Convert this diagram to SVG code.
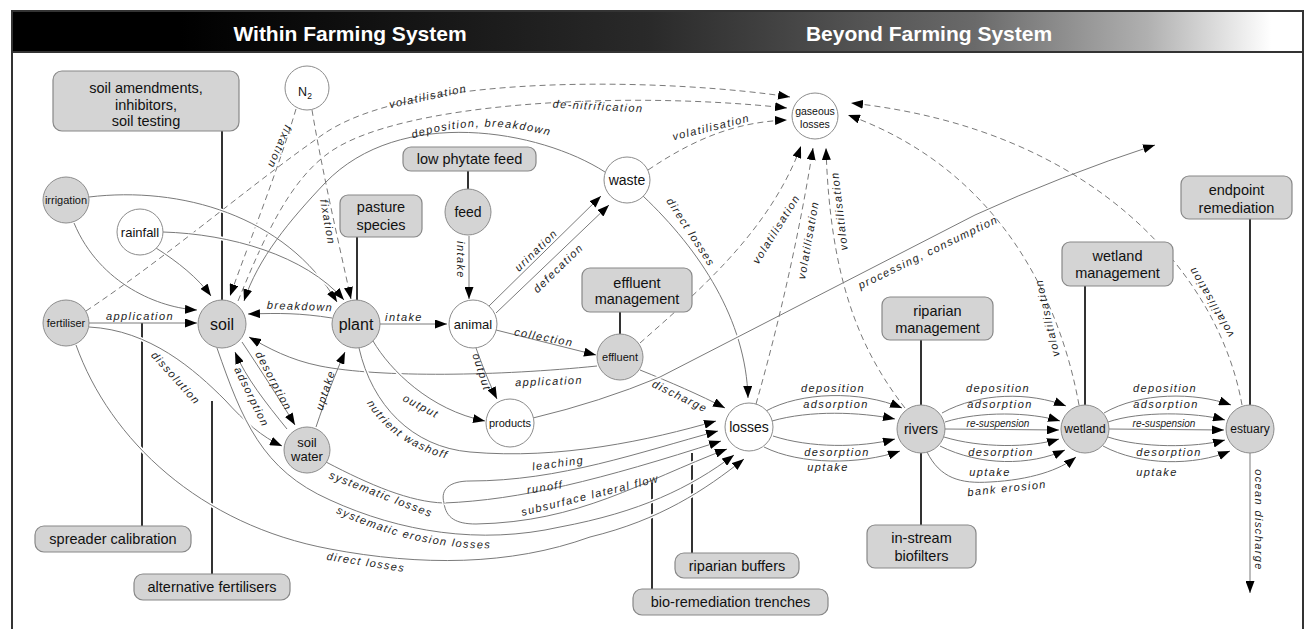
<svg xmlns="http://www.w3.org/2000/svg" width="1304" height="629" viewBox="0 0 1304 629">
<defs>
<linearGradient id="hdr" x1="0" y1="0" x2="1304" y2="0" gradientUnits="userSpaceOnUse">
<stop offset="0.138" stop-color="#000"/>
<stop offset="0.5" stop-color="#2a2a2a"/>
<stop offset="0.748" stop-color="#6a6a6a"/>
<stop offset="0.88" stop-color="#b0b0b0"/>
<stop offset="0.975" stop-color="#fff"/>
</linearGradient>
<marker id="ah" viewBox="0 0 12 9" refX="12" refY="4.5" markerWidth="12" markerHeight="9" orient="auto" markerUnits="userSpaceOnUse">
<path d="M0,0 L12,4.5 L0,9 z" fill="#000"/>
</marker>
<path id="tpDep" d="M 403,142 Q 480,113 560,139"/>
<path id="tpNut" d="M 361,391 C 375,425 409,452 460,462"/>
<path id="tpEro" d="M 326,508 C 380,535 440,551 502,548"/>
</defs>
<style>
.ng{fill:#d4d4d4;stroke:#8c8c8c;stroke-width:1}
.nw{fill:#fff;stroke:#8c8c8c;stroke-width:1}
.bx{fill:#d4d4d4;stroke:#888;stroke-width:1.2}
.nt{font-family:"Liberation Sans",Arial,sans-serif;fill:#111;text-anchor:middle}
.bt{font-family:"Liberation Sans",Arial,sans-serif;font-size:14.5px;fill:#111;text-anchor:middle}
.e{fill:none;stroke:#7a7a7a;stroke-width:1}
.d{fill:none;stroke:#7a7a7a;stroke-width:1;stroke-dasharray:6 4}
.h{fill:none;stroke:#fff;stroke-width:4}
.a{marker-end:url(#ah)}
.lk{stroke:#333;stroke-width:2;fill:none}
.el{font-family:"Liberation Sans",Arial,sans-serif;font-size:11px;font-style:italic;letter-spacing:1.4px;fill:#222;text-anchor:middle;dominant-baseline:central}
.ep{font-family:"Liberation Sans",Arial,sans-serif;font-size:11px;font-style:italic;letter-spacing:1.4px;fill:#222;text-anchor:middle}
.rs{font-size:10px;letter-spacing:0}
.ht{font-family:"Liberation Sans",Arial,sans-serif;font-weight:bold;font-size:21px;fill:#fff;text-anchor:middle}
</style>

<g id="frame">
<rect x="0" y="0" width="1304" height="629" fill="#fff"/>
<rect x="12" y="11" width="1291" height="41" fill="url(#hdr)"/>
<line x1="11" y1="11" x2="1304" y2="11" stroke="#333" stroke-width="2"/>
<line x1="11" y1="52" x2="1304" y2="52" stroke="#333" stroke-width="2"/>
<line x1="12" y1="11" x2="12" y2="629" stroke="#333" stroke-width="2"/>
<line x1="1303" y1="11" x2="1303" y2="629" stroke="#333" stroke-width="2"/>
<text class="ht" x="350" y="41">Within Farming System</text>
<text class="ht" x="929" y="41">Beyond Farming System</text>
</g>

<g id="connectors">
<!-- intervention links -->
<path class="lk" d="M222,131 V300"/>
<path class="lk" d="M357,237 V300"/>
<path class="lk" d="M468,171 V189"/>
<path class="lk" d="M620,312 V334"/>
<path class="lk" d="M921,340 V405"/>
<path class="lk" d="M1085,286 V405"/>
<path class="lk" d="M1250,219 V405"/>
<path class="lk" d="M142,323 V526"/>
<path class="lk" d="M212,401 V574"/>
<path class="lk" d="M692,453 V553"/>
<path class="lk" d="M652,483 V589"/>
<path class="lk" d="M921,453 V525"/>

<!-- flows -->
<path class="d a" d="M 86,311 C 170,255 250,185 325,133 C 420,70 680,80 790,97"/>
<path class="d a" d="M 238,301 C 265,235 290,180 330,152 C 400,103 620,90 787,108"/>
<path class="d a" d="M 296,109 C 278,170 250,240 230,296"/>
<path class="d a" d="M 312,110 C 322,170 338,240 351,299"/>
<path class="h" d="M 89,197 C 180,186 285,215 337,302"/>
<path class="e a" d="M 89,197 C 180,186 285,215 337,302"/>
<path class="h" d="M 163,232 C 230,234 305,255 344,300"/>
<path class="e a" d="M 163,232 C 230,234 305,255 344,300"/>
<path class="e a" d="M 74,223 C 100,285 160,308 197,310"/>
<path class="e a" d="M 156,248 C 178,262 198,278 211,296"/>
<path class="e a" d="M 605,172 C 540,130 400,105 325,183 C 290,220 258,258 244,301"/>
<path class="e a" d="M 89,323 L 197,323"/>
<path class="h" d="M 89,327 C 150,330 195,370 225,400 C 245,422 262,437 282,446"/>
<path class="e a" d="M 89,327 C 150,330 195,370 225,400 C 245,422 262,437 282,446"/>
<path class="e a" d="M 332,318 C 300,313 280,313 248,314"/>
<path class="e a" d="M 242,342 C 262,372 280,400 295,425"/>
<path class="e a" d="M 287,429 C 266,403 246,378 235,352"/>
<path class="e a" d="M 316,427 C 325,400 336,372 345,352"/>
<path class="e a" d="M 597,366 C 500,376 380,378 320,366 C 290,360 268,348 249,337"/>
<path class="h" d="M 373,341 C 390,370 430,410 485,421"/>
<path class="e a" d="M 373,341 C 390,370 430,410 485,421"/>
<path class="h" d="M 359,348 C 372,405 412,447 470,452 C 560,460 650,440 716,421"/>
<path class="e a" d="M 359,348 C 372,405 412,447 470,452 C 560,460 650,440 716,421"/>
<path class="h" d="M 76,345 C 110,440 200,525 330,549 C 420,566 510,566 590,537 C 660,520 705,490 744,459"/>
<path class="e a" d="M 76,345 C 110,440 200,525 330,549 C 420,566 510,566 590,537 C 660,520 705,490 744,459"/>
<path class="h" d="M 217,348 C 242,420 262,470 330,500 C 400,532 480,545 560,527 C 640,512 690,488 734,455"/>
<path class="e a" d="M 217,348 C 242,420 262,470 330,500 C 400,532 480,545 560,527 C 640,512 690,488 734,455"/>
<path class="e" d="M 326,462 C 370,485 410,502 444,503"/>
<path class="h" d="M 444,503 C 446,518 456,524 476,524 C 580,522 640,482 727,449"/>
<path class="e a" d="M 444,503 C 446,518 456,524 476,524 C 580,522 640,482 727,449"/>
<path class="h" d="M 444,503 C 520,500 600,480 721,441"/>
<path class="e a" d="M 444,503 C 520,500 600,480 721,441"/>
<path class="h" d="M 444,503 C 440,489 450,481 470,481 C 560,481 640,452 718,431"/>
<path class="e a" d="M 444,503 C 440,489 450,481 470,481 C 560,481 640,452 718,431"/>
<path class="e a" d="M 380,324 L 447,324"/>
<path class="e a" d="M 469,236 L 469,299"/>
<path class="e a" d="M 489,306 L 601,196"/>
<path class="e a" d="M 496,313 L 609,205"/>
<path class="e a" d="M 496,330 L 596,355"/>
<path class="e a" d="M 476,348 C 484,370 490,385 497,399"/>
<path class="e a" d="M 640,370 C 670,382 700,395 725,408"/>
<path class="d a" d="M 640,343 C 700,290 770,230 801,146"/>
<path class="d a" d="M 648,170 C 700,135 740,122 787,120"/>
<path class="e a" d="M 643,196 C 700,250 746,320 748,398"/>
<path class="h" d="M 533,418 Q 600,402 660,377 L 975,215 Q 1060,176 1155,145"/>
<path class="e a" d="M 533,418 Q 600,402 660,377 L 975,215 Q 1060,176 1155,145"/>
<path class="d a" d="M 756,404 C 780,320 800,230 813,148"/>
<path class="d a" d="M 905,408 C 860,350 830,280 826,148"/>
<path class="d a" d="M 1079,405 C 1060,300 1000,170 848,115"/>
<path class="d a" d="M 1242,405 C 1220,280 1100,130 851,103"/>
<path class="e a" d="M 766,411 C 800,392 860,390 902,408"/>
<path class="e a" d="M 772,421 C 810,410 860,412 895,419"/>
<path class="e a" d="M 773,436 C 810,448 860,448 895,439"/>
<path class="e a" d="M 764,447 C 800,465 860,465 900,451"/>
<path class="e a" d="M 942,413 C 980,392 1030,392 1066,406"/>
<path class="e a" d="M 945,422 C 980,411 1030,412 1060,421"/>
<path class="e a" d="M 945,429 L 1059,430"/>
<path class="e a" d="M 944,437 C 980,448 1030,448 1059,439"/>
<path class="e a" d="M 940,446 C 980,466 1030,466 1065,450"/>
<path class="e a" d="M 927,452 C 940,478 960,484 990,482 C 1030,480 1060,470 1076,457"/>
<path class="e a" d="M 1104,413 C 1140,392 1195,392 1231,405"/>
<path class="e a" d="M 1108,422 C 1140,411 1195,412 1225,420"/>
<path class="e a" d="M 1109,429 L 1224,430"/>
<path class="e a" d="M 1108,437 C 1140,448 1195,448 1225,440"/>
<path class="e a" d="M 1103,446 C 1140,466 1195,466 1230,451"/>
<path class="e a" d="M 1250,453 L 1250,593"/>

<!-- edge labels -->
<text class="el" transform="rotate(-12 428 96)" x="428" y="96">volatilisation</text>
<text class="el" transform="rotate(3 598 106)" x="598" y="106">de-nitrification</text>
<text class="ep"><textPath href="#tpDep" startOffset="50%">deposition, breakdown</textPath></text>
<text class="el" transform="rotate(113 280 147)" x="280" y="147">fixation</text>
<text class="el" transform="rotate(80 328 222)" x="328" y="222">fixation</text>
<text class="el" x="140" y="316">application</text>
<text class="el" transform="rotate(48 176 378)" x="176" y="378">dissolution</text>
<text class="el" transform="rotate(2 300 306)" x="300" y="306">breakdown</text>
<text class="el" transform="rotate(62 274 381)" x="274" y="381">desorption</text>
<text class="el" transform="rotate(64 252 397)" x="252" y="397">adsorption</text>
<text class="el" transform="rotate(-72 325 390)" x="325" y="390">uptake</text>
<text class="el" x="404" y="317">intake</text>
<text class="el" transform="rotate(28 421 406)" x="421" y="406">output</text>
<text class="ep"><textPath href="#tpNut" startOffset="50%">nutrient washoff</textPath></text>
<text class="el" transform="rotate(90 461 260)" x="461" y="260">intake</text>
<text class="el" transform="rotate(-44 536 250)" x="536" y="250">urination</text>
<text class="el" transform="rotate(-44 558 268)" x="558" y="268">defecation</text>
<text class="el" transform="rotate(11 544 337)" x="544" y="337">collection</text>
<text class="el" transform="rotate(72 482 372)" x="482" y="372">output</text>
<text class="el" transform="rotate(-2 549 381)" x="549" y="381">application</text>
<text class="el" transform="rotate(26 680 396)" x="680" y="396">discharge</text>
<text class="el" transform="rotate(57 691 232)" x="691" y="232">direct losses</text>
<text class="el" transform="rotate(-14 711 127)" x="711" y="127">volatilisation</text>
<text class="el" transform="rotate(-58 776 229)" x="776" y="229">volatilisation</text>
<text class="el" transform="rotate(-80 808 240)" x="808" y="240">volatilisation</text>
<text class="el" transform="rotate(-97 839 211)" x="839" y="211">volatilisation</text>
<text class="el" transform="rotate(-103 1047 318)" x="1047" y="318">volatilisation</text>
<text class="el" transform="rotate(-120 1211 302)" x="1211" y="302">volatilisation</text>
<text class="el" transform="rotate(-26 928 252)" x="928" y="252">processing, consumption</text>
<text class="el" transform="rotate(90 1259 520)" x="1259" y="520">ocean discharge</text>
<text class="el" x="833" y="388">deposition</text>
<text class="el" x="836" y="404">adsorption</text>
<text class="el" x="837" y="452">desorption</text>
<text class="el" x="828" y="467">uptake</text>
<text class="el" x="998" y="388">deposition</text>
<text class="el" x="1000" y="404">adsorption</text>
<text class="el rs" x="998" y="423">re-suspension</text>
<text class="el" x="1001" y="452">desorption</text>
<text class="el" x="990" y="472">uptake</text>
<text class="el" transform="rotate(-6 1007 488)" x="1007" y="488">bank erosion</text>
<text class="el" x="1165" y="388">deposition</text>
<text class="el" x="1166" y="404">adsorption</text>
<text class="el rs" x="1164" y="423">re-suspension</text>
<text class="el" x="1169" y="452">desorption</text>
<text class="el" x="1157" y="472">uptake</text>
<text class="el" transform="rotate(21 381 494)" x="381" y="494">systematic losses</text>
<text class="ep"><textPath href="#tpEro" startOffset="50%">systematic erosion losses</textPath></text>
<text class="el" transform="rotate(9 366 562)" x="366" y="562">direct losses</text>
<text class="el" transform="rotate(-8 558 463)" x="558" y="463">leaching</text>
<text class="el" transform="rotate(-9 545 487)" x="545" y="487">runoff</text>
<text class="el" transform="rotate(-14 590 495)" x="590" y="495">subsurface lateral flow</text>
</g>

<g id="n-N2"><circle class="nw" cx="307" cy="88" r="22"/><text class="nt" x="305" y="96" font-size="12.5">N<tspan font-size="8.5" dy="3">2</tspan></text></g>
<g id="n-irrigation"><circle class="ng" cx="66" cy="200" r="23"/><text class="nt" x="66" y="204" font-size="11">irrigation</text></g>
<g id="n-rainfall"><circle class="nw" cx="140" cy="232" r="23"/><text class="nt" x="140" y="237" font-size="13">rainfall</text></g>
<g id="n-fertiliser"><circle class="ng" cx="66" cy="323" r="23"/><text class="nt" x="66" y="327" font-size="11">fertiliser</text></g>
<g id="n-soil"><circle class="ng" cx="222" cy="324" r="24"/><text class="nt" x="222" y="330" font-size="16">soil</text></g>
<g id="n-plant"><circle class="ng" cx="356" cy="324" r="24"/><text class="nt" x="356" y="330" font-size="16">plant</text></g>
<g id="n-soilwater"><circle class="ng" cx="307" cy="450" r="23"/><text class="nt" x="307" y="447" font-size="13">soil</text><text class="nt" x="307" y="461" font-size="13">water</text></g>
<g id="n-feed"><circle class="ng" cx="468" cy="212" r="23"/><text class="nt" x="468" y="217" font-size="14">feed</text></g>
<g id="n-animal"><circle class="nw" cx="473" cy="324" r="24"/><text class="nt" x="473" y="329" font-size="13">animal</text></g>
<g id="n-waste"><circle class="nw" cx="627" cy="180" r="23"/><text class="nt" x="627" y="185" font-size="14">waste</text></g>
<g id="n-effluent"><circle class="ng" cx="620" cy="357" r="23"/><text class="nt" x="620" y="361" font-size="11">effluent</text></g>
<g id="n-products"><circle class="nw" cx="510" cy="423" r="24"/><text class="nt" x="510" y="427" font-size="11">products</text></g>
<g id="n-gaseous"><circle class="nw" cx="815" cy="116" r="23"/><text class="nt" x="815" y="115" font-size="10.5">gaseous</text><text class="nt" x="815" y="128" font-size="10.5">losses</text></g>
<g id="n-losses"><circle class="nw" cx="749" cy="427" r="24"/><text class="nt" x="749" y="432" font-size="14">losses</text></g>
<g id="n-rivers"><circle class="ng" cx="921" cy="429" r="24"/><text class="nt" x="921" y="434" font-size="14">rivers</text></g>
<g id="n-wetland"><circle class="ng" cx="1085" cy="429" r="24"/><text class="nt" x="1085" y="433" font-size="12">wetland</text></g>
<g id="n-estuary"><circle class="ng" cx="1250" cy="429" r="24"/><text class="nt" x="1250" y="433" font-size="12">estuary</text></g>

<g id="b-soilamend"><rect class="bx" x="53" y="71" width="186" height="60" rx="9"/><text class="bt" font-size="15" x="146" y="93">soil amendments,</text><text class="bt" font-size="15" x="146" y="110">inhibitors,</text><text class="bt" font-size="15" x="146" y="126">soil testing</text></g>
<g id="b-pasture"><rect class="bx" x="340" y="195" width="82" height="42" rx="8"/><text class="bt" x="381" y="212">pasture</text><text class="bt" x="381" y="230">species</text></g>
<g id="b-phytate"><rect class="bx" x="403" y="147" width="133" height="24" rx="8"/><text class="bt" x="469.5" y="164">low phytate feed</text></g>
<g id="b-effluentmgmt"><rect class="bx" x="582" y="268" width="110" height="44" rx="8"/><text class="bt" x="637" y="288">effluent</text><text class="bt" x="637" y="304">management</text></g>
<g id="b-riparianmgmt"><rect class="bx" x="882" y="297" width="111" height="43" rx="8"/><text class="bt" x="937.5" y="316">riparian</text><text class="bt" x="937.5" y="333">management</text></g>
<g id="b-wetlandmgmt"><rect class="bx" x="1062" y="242" width="111" height="44" rx="8"/><text class="bt" x="1117.5" y="261">wetland</text><text class="bt" x="1117.5" y="278">management</text></g>
<g id="b-endpoint"><rect class="bx" x="1181" y="176" width="111" height="43" rx="8"/><text class="bt" x="1236.5" y="195">endpoint</text><text class="bt" x="1236.5" y="213">remediation</text></g>
<g id="b-spreader"><rect class="bx" x="35" y="526" width="156" height="26" rx="9"/><text class="bt" x="113" y="544">spreader calibration</text></g>
<g id="b-altfert"><rect class="bx" x="134" y="574" width="156" height="26" rx="9"/><text class="bt" x="212" y="592">alternative fertilisers</text></g>
<g id="b-ripbuffers"><rect class="bx" x="675" y="553" width="124" height="25" rx="9"/><text class="bt" x="737" y="571">riparian buffers</text></g>
<g id="b-bioremed"><rect class="bx" x="633" y="589" width="195" height="26" rx="9"/><text class="bt" x="730.5" y="607">bio-remediation trenches</text></g>
<g id="b-instream"><rect class="bx" x="867" y="525" width="109" height="43" rx="8"/><text class="bt" x="921.5" y="543">in-stream</text><text class="bt" x="921.5" y="561">biofilters</text></g>
</svg>
